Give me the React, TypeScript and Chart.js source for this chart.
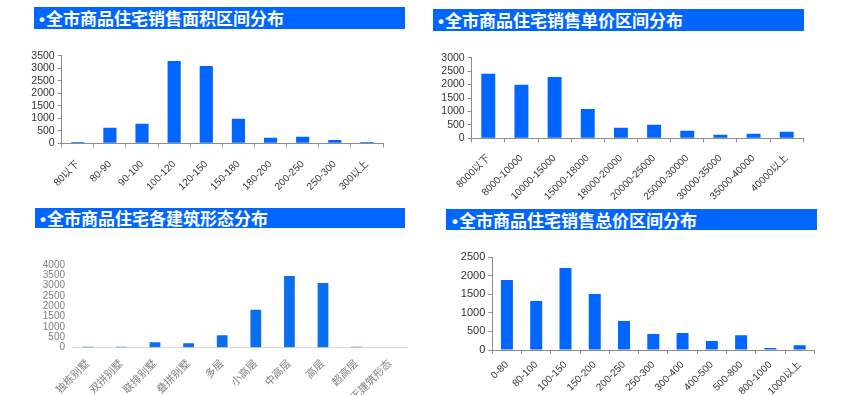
import React, { useEffect, useRef } from "react";
import { Chart, registerables } from "chart.js";

Chart.register(...registerables);

// ---- Data ----
const areaCategories = ["80以下", "80-90", "90-100", "100-120", "120-150", "150-180", "180-200", "200-250", "250-300", "300以上"];
const areaValues = [50, 620, 780, 3290, 3090, 980, 220, 260, 130, 50];

const unitPriceCategories = ["8000以下", "8000-10000", "10000-15000", "15000-18000", "18000-20000", "20000-25000", "25000-30000", "30000-35000", "35000-40000", "40000以上"];
const unitPriceValues = [2400, 1990, 2280, 1090, 390, 500, 280, 130, 170, 240];

const formCategories = ["独栋别墅", "双拼别墅", "联排别墅", "叠拼别墅", "多层", "小高层", "中高层", "高层", "超高层", "无建筑形态"];
const formValues = [50, 50, 260, 220, 600, 1840, 3470, 3130, 50, 0];

const totalPriceCategories = ["0-80", "80-100", "100-150", "150-200", "200-250", "250-300", "300-400", "400-500", "500-800", "800-1000", "1000以上"];
const totalPriceValues = [1890, 1320, 2210, 1510, 780, 430, 460, 240, 400, 55, 130];

const areaYMax = 3500;
const unitYMax = 3000;
const formYMax = 4000;
const totalYMax = 2500;
const yStep = 500;

const titles = [
  "全市商品住宅销售面积区间分布",
  "全市商品住宅销售单价区间分布",
  "全市商品住宅各建筑形态分布",
  "全市商品住宅销售总价区间分布",
];
const bullet = "•";

const FONT = '"Liberation Sans", Arial, "Noto Sans CJK SC", sans-serif';

type PanelCfg = {
  labels: string[];
  values: number[];
  max: number;
  left: number;
  top: number;
  width: number;
  height: number;
  padTop: number;
  padRight: number;
  yWidth: number;
  xHeight: number;
  barPct: number;
  barColor: string;
  axisColor: string;
  labelColor: string;
  xFontSize: number;
  yFontSize: number;
  axisLines: boolean;
  xTickLen: number;
  xPad: number;
  yPad: number;
};

function BarPanel({ cfg }: { cfg: PanelCfg }) {
  const ref = useRef<HTMLCanvasElement | null>(null);
  useEffect(() => {
    if (!ref.current) return;
    const c = cfg;
    const chart = new Chart(ref.current, {
      type: "bar",
      data: {
        labels: c.labels,
        datasets: [
          {
            data: c.values,
            backgroundColor: c.barColor,
            borderWidth: 0,
            categoryPercentage: 1,
            barPercentage: c.barPct,
          },
        ],
      },
      options: {
        responsive: false,
        animation: false,
        devicePixelRatio: 1,
        plugins: { legend: { display: false }, tooltip: { enabled: false } },
        layout: { padding: { top: c.padTop, right: c.padRight, left: 0, bottom: 0 } },
        scales: {
          x: {
            grid: {
              display: true,
              offset: true,
              drawOnChartArea: false,
              drawTicks: c.axisLines,
              tickLength: c.xTickLen,
              color: c.axisColor,
            },
            border: { display: true, color: c.axisColor, width: 1 },
            ticks: {
              color: c.labelColor,
              font: { size: c.xFontSize, family: FONT },
              minRotation: 45,
              maxRotation: 45,
              autoSkip: false,
              padding: c.xPad,
            },
            afterFit: (s: any) => {
              s.height = c.xHeight;
            },
          },
          y: {
            min: 0,
            max: c.max,
            grid: {
              display: true,
              drawOnChartArea: false,
              drawTicks: c.axisLines,
              tickLength: 4,
              color: c.axisColor,
            },
            border: { display: c.axisLines, color: c.axisColor, width: 1 },
            ticks: {
              stepSize: yStep,
              autoSkip: false,
              color: c.labelColor,
              font: { size: c.yFontSize, family: FONT },
              padding: c.yPad,
              callback: (v: any) => String(v),
            },
            afterFit: (s: any) => {
              s.width = c.yWidth;
            },
          },
        },
      },
    } as any);
    return () => chart.destroy();
  }, [cfg]);
  return (
    <canvas
      ref={ref}
      width={cfg.width}
      height={cfg.height}
      style={{ position: "absolute", left: cfg.left, top: cfg.top, width: cfg.width, height: cfg.height }}
    />
  );
}

const panels: PanelCfg[] = [
  {
    labels: areaCategories, values: areaValues, max: areaYMax,
    left: 10, top: 45, width: 383, height: 160, padTop: 10.7, padRight: 10,
    yWidth: 51.7, xHeight: 61.7, barPct: 0.41, barColor: "#0066ff",
    axisColor: "#8c8c8c", labelColor: "#333333", xFontSize: 10, yFontSize: 10.5, axisLines: true,
    xTickLen: 4, xPad: 11, yPad: 3,
  },
  {
    labels: unitPriceCategories, values: unitPriceValues, max: unitYMax,
    left: 430, top: 47, width: 384, height: 158, padTop: 10.7, padRight: 10.7,
    yWidth: 41.7, xHeight: 66.7, barPct: 0.42, barColor: "#0066ff",
    axisColor: "#8c8c8c", labelColor: "#333333", xFontSize: 10, yFontSize: 10.5, axisLines: true,
    xTickLen: 4, xPad: 10, yPad: 3,
  },
  {
    labels: formCategories, values: formValues, max: formYMax,
    left: 20, top: 253, width: 397, height: 160, padTop: 10.7, padRight: 10,
    yWidth: 51, xHeight: 65.3, barPct: 0.32, barColor: "#0a6fec",
    axisColor: "#d9d9d9", labelColor: "#7f7f7f", xFontSize: 10.5, yFontSize: 10, axisLines: false,
    xTickLen: 0, xPad: 10, yPad: 6,
  },
  {
    labels: totalPriceCategories, values: totalPriceValues, max: totalYMax,
    left: 445, top: 247, width: 380, height: 165, padTop: 10.3, padRight: 10.7,
    yWidth: 47.3, xHeight: 62, barPct: 0.41, barColor: "#0066ff",
    axisColor: "#8c8c8c", labelColor: "#333333", xFontSize: 10, yFontSize: 11, axisLines: true,
    xTickLen: 4, xPad: 5, yPad: 3,
  },
];

const titleBoxes = [
  { left: 34, top: 7, width: 371, height: 22, pad: 5 },
  { left: 433, top: 9, width: 371, height: 22, pad: 5 },
  { left: 35, top: 208, width: 370, height: 20, pad: 5 },
  { left: 446, top: 209, width: 371, height: 21, pad: 6 },
];

export default function App() {
  return (
    <div style={{ position: "absolute", left: 0, top: 0, width: 857, height: 395, background: "#ffffff", overflow: "hidden" }}>
      {titleBoxes.map((t, i) => (
        <div
          key={i}
          style={{
            position: "absolute",
            left: t.left,
            top: t.top,
            width: t.width,
            height: t.height,
            lineHeight: t.height + "px",
            background: "#0066ff",
            color: "#ffffff",
            fontFamily: '"Noto Sans CJK SC", sans-serif',
            fontWeight: 700,
            fontSize: 17,
            paddingLeft: t.pad,
            boxSizing: "border-box",
            whiteSpace: "nowrap",
            overflow: "hidden",
          }}
        >
          <span style={{ fontFamily: '"Liberation Sans", Arial, sans-serif', marginRight: 1 }}>{bullet}</span>
          {titles[i]}
        </div>
      ))}
      {panels.map((p, i) => (
        <BarPanel key={i} cfg={p} />
      ))}
    </div>
  );
}
